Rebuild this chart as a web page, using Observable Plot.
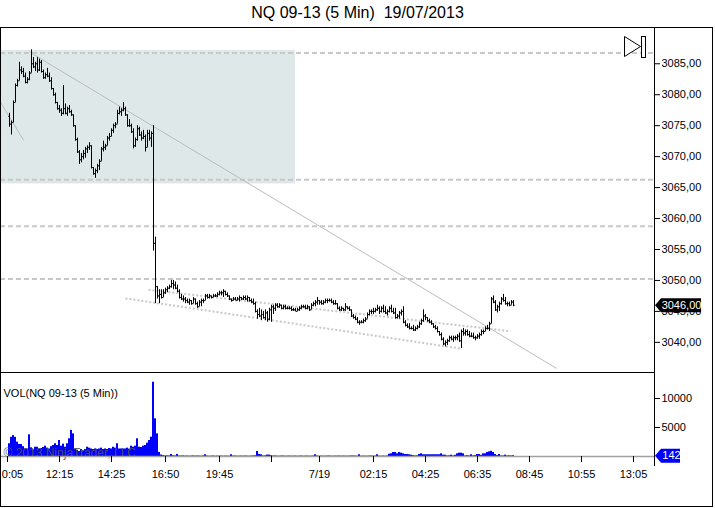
<!DOCTYPE html>
<html>
<head>
<meta charset="utf-8">
<script src="https://cdn.jsdelivr.net/npm/d3@7"></script>
<script src="https://cdn.jsdelivr.net/npm/@observablehq/plot@0.6"></script>
<style>
  html, body { margin: 0; padding: 0; background: #fff; }
  #wrap { position: relative; width: 715px; height: 508px; background: #fff; overflow: hidden;
          font-family: "Liberation Sans", Arial, sans-serif; }
  #title { position: absolute; left: 0; top: 4px; width: 715px; text-align: center; font-size: 16px;
           white-space: pre; color: #000; }
  .abs { position: absolute; }
  .line { position: absolute; pointer-events: none; }
</style>
</head>
<body>
<div id="wrap">
  <div id="title">NQ 09-13 (5 Min)  19/07/2013</div>
  <div id="price" class="abs" style="left:0;top:27px"></div>
  <div id="vol" class="abs" style="left:0;top:372px"></div>
  <div class="line" style="left:0;top:27px;width:711px;height:478px;border:1px solid #000"></div>
  <div class="line" style="left:654px;top:27px;width:0;height:439px;border-left:1px solid #000"></div>
  <div class="line" style="left:0;top:372px;width:654px;height:0;border-top:1px solid #000"></div>
  <svg class="abs" style="left:620px;top:34px" width="30" height="26">
    <path d="M4.5,2.5 L20.5,12.5 L4.5,22.5 Z" fill="#fff" stroke="#000"/>
    <rect x="21.5" y="2.5" width="4" height="21" fill="#fff" stroke="#000"/>
  </svg>
</div>
<script>
// ---------------- data ----------------
const highs = [
  3077.0,3075.75,3079.0,3081.75,3082.5,3085.25,3084.5,3084.25,3083.5,3082.75,
  3083.75,3087.25,3086.0,3085.25,3086.0,3085.75,3085.5,3084.0,3083.5,3084.25,
  3083.5,3082.75,3081.0,3080.25,3078.75,3078.25,3077.75,3081.5,3078.5,3078.0,
  3078.25,3077.5,3076.75,3075.0,3073.0,3071.0,3070.5,3071.0,3071.5,3071.75,
  3072.25,3071.75,3068.25,3068.0,3068.75,3069.5,3071.5,3072.5,3072.0,3073.25,
  3073.75,3074.5,3075.25,3075.5,3077.5,3078.0,3077.75,3078.75,3078.0,3076.75,
  3076.0,3075.25,3074.5,3073.0,3075.0,3074.75,3074.0,3074.25,3073.5,3074.25,
  3074.25,3074.0,3075.0,3057.0,3049.0,3048.5,3048.5,3048.5,3048.75,3049.0,
  3049.25,3050.0,3050.0,3049.75,3049.25,3048.5,3047.75,3047.5,3047.25,3047.0,
  3047.0,3046.75,3047.25,3047.0,3046.5,3046.75,3047.0,3047.0,3047.75,3047.75,
  3047.75,3047.5,3047.75,3047.75,3048.0,3048.25,3048.25,3048.5,3048.25,3048.0,
  3047.5,3047.0,3047.25,3047.25,3047.25,3047.5,3047.25,3047.5,3047.5,3047.5,
  3047.25,3047.0,3047.0,3046.5,3045.25,3045.5,3045.25,3045.0,3045.25,3045.0,
  3045.5,3046.0,3046.0,3046.25,3046.25,3046.25,3046.0,3046.0,3046.0,3045.75,
  3045.75,3045.75,3045.5,3045.5,3045.5,3045.75,3046.0,3046.0,3046.0,3046.0,
  3045.75,3046.25,3046.5,3046.75,3047.25,3046.75,3046.75,3046.75,3047.0,3047.0,
  3047.0,3047.0,3046.75,3046.75,3046.25,3045.75,3045.75,3045.5,3046.25,3045.75,
  3045.75,3045.25,3044.5,3044.25,3044.0,3043.5,3043.5,3043.75,3044.0,3044.75,
  3045.25,3045.25,3045.5,3045.5,3046.0,3045.75,3045.75,3046.0,3045.75,3045.25,
  3045.75,3046.0,3045.5,3045.5,3044.5,3045.0,3045.25,3045.75,3043.5,3043.0,
  3043.0,3042.5,3042.75,3042.5,3042.75,3043.25,3043.75,3045.25,3044.5,3044.0,
  3043.75,3043.5,3043.0,3042.75,3042.5,3041.75,3041.5,3040.75,3040.25,3040.5,
  3041.0,3041.0,3041.0,3041.0,3041.25,3041.5,3042.0,3042.25,3042.0,3042.0,
  3041.75,3041.5,3041.5,3041.0,3041.25,3041.5,3042.0,3042.0,3042.5,3042.75,
  3043.25,3047.25,3047.5,3046.75,3046.0,3046.5,3047.25,3047.75,3047.25,3046.5,
  3046.5,3046.75,3046.75
];
const lows = [
  3074.75,3073.5,3075.5,3078.75,3081.25,3082.25,3083.25,3082.75,3081.75,3081.75,
  3082.25,3083.5,3084.25,3083.75,3083.5,3083.75,3083.5,3082.5,3082.5,3082.75,
  3082.0,3080.75,3079.75,3078.5,3077.5,3077.0,3076.5,3076.75,3076.75,3076.5,
  3077.0,3076.5,3074.75,3072.5,3070.5,3068.75,3069.0,3069.5,3069.75,3070.5,
  3071.0,3068.0,3067.0,3066.5,3067.25,3067.75,3069.25,3070.75,3071.0,3071.75,
  3072.5,3073.25,3073.75,3074.5,3075.25,3076.75,3076.5,3077.25,3076.5,3074.75,
  3074.75,3073.75,3071.25,3071.5,3072.5,3073.25,3072.5,3072.75,3070.75,3071.5,
  3072.5,3071.5,3054.75,3046.25,3047.0,3046.25,3047.0,3047.25,3047.75,3048.0,
  3048.5,3048.75,3048.5,3048.5,3048.0,3047.0,3046.75,3046.5,3046.25,3046.25,
  3046.0,3046.0,3046.25,3046.0,3045.5,3045.75,3045.75,3046.25,3046.75,3047.0,
  3047.0,3047.0,3047.25,3047.25,3047.25,3047.5,3047.5,3047.25,3047.5,3047.25,
  3046.75,3046.5,3046.75,3046.75,3046.75,3046.5,3046.75,3046.75,3046.75,3046.5,
  3046.5,3046.25,3046.0,3044.75,3043.75,3044.0,3043.5,3043.75,3043.5,3043.25,
  3043.5,3043.25,3044.5,3045.0,3045.5,3045.5,3045.25,3045.25,3045.25,3045.25,
  3045.25,3045.0,3045.0,3045.0,3045.0,3045.0,3045.25,3045.5,3045.25,3045.25,
  3045.0,3045.25,3045.75,3045.75,3046.0,3046.0,3046.0,3046.0,3046.25,3046.25,
  3046.5,3046.25,3046.0,3046.0,3045.25,3045.0,3045.0,3045.0,3045.0,3045.25,
  3045.0,3044.0,3043.75,3043.5,3043.0,3042.75,3043.0,3043.0,3043.25,3043.75,
  3044.25,3044.5,3044.5,3044.75,3045.0,3044.5,3044.75,3044.75,3044.5,3044.25,
  3044.75,3044.75,3044.5,3043.75,3043.75,3043.75,3044.25,3043.0,3042.5,3042.25,
  3042.0,3042.0,3041.75,3041.75,3042.0,3042.25,3042.75,3043.25,3043.5,3043.25,
  3043.0,3042.75,3042.25,3042.0,3041.5,3041.0,3040.25,3039.5,3039.25,3039.5,
  3040.0,3040.25,3040.0,3040.25,3040.25,3040.0,3039.0,3041.0,3041.0,3041.0,
  3040.75,3040.75,3040.5,3040.25,3040.5,3040.5,3041.0,3041.25,3041.75,3042.0,
  3041.75,3043.0,3046.25,3045.0,3044.75,3045.0,3046.0,3046.5,3046.0,3045.75,
  3045.75,3046.0,3045.75
];
const closes = [
  3075.25,3075.5,3078.75,3081.5,3082.25,3084.0,3083.75,3083.0,3082.0,3082.5,
  3083.5,3085.0,3084.5,3085.0,3084.0,3085.25,3083.75,3082.75,3083.25,3083.0,
  3082.25,3081.0,3080.0,3078.75,3077.75,3077.5,3077.0,3077.75,3077.0,3077.75,
  3077.25,3076.75,3075.0,3072.75,3070.75,3069.5,3070.0,3070.5,3071.25,3071.5,
  3071.75,3068.25,3067.25,3067.75,3068.5,3069.25,3071.25,3071.5,3071.75,3073.0,
  3073.25,3074.25,3075.0,3075.25,3077.0,3077.25,3077.5,3077.75,3076.75,3075.0,
  3075.0,3074.0,3071.75,3072.75,3074.5,3073.5,3073.0,3073.25,3071.5,3073.75,
  3073.0,3073.75,3056.0,3049.0,3047.5,3047.75,3047.25,3048.0,3048.5,3048.75,
  3049.0,3049.5,3049.25,3048.75,3048.25,3047.25,3047.0,3047.0,3046.75,3046.5,
  3046.75,3046.25,3047.0,3046.25,3045.75,3046.5,3046.75,3046.75,3047.5,3047.25,
  3047.5,3047.25,3047.5,3047.5,3047.75,3048.0,3048.0,3048.25,3047.75,3047.5,
  3047.0,3046.75,3047.0,3046.75,3047.0,3047.25,3047.0,3047.25,3047.0,3047.25,
  3046.75,3046.5,3046.25,3045.0,3044.5,3044.25,3044.5,3044.0,3044.75,3043.75,
  3045.25,3045.75,3045.5,3046.0,3045.75,3046.0,3045.5,3045.75,3045.5,3045.5,
  3045.5,3045.25,3045.25,3045.0,3045.25,3045.5,3045.75,3045.75,3045.5,3045.75,
  3045.25,3046.0,3046.25,3046.5,3046.75,3046.5,3046.25,3046.5,3046.75,3046.75,
  3046.75,3046.5,3046.25,3046.25,3045.5,3045.25,3045.5,3045.25,3045.75,3045.5,
  3045.25,3044.25,3044.0,3043.75,3043.25,3043.25,3043.25,3043.5,3043.75,3044.5,
  3045.0,3045.0,3045.0,3045.25,3045.5,3045.0,3045.5,3045.0,3044.75,3045.0,
  3045.5,3045.0,3044.75,3044.0,3044.25,3044.75,3045.0,3043.25,3042.75,3042.5,
  3042.25,3042.25,3042.0,3042.25,3042.5,3043.0,3043.5,3044.25,3044.0,3043.5,
  3043.25,3043.0,3042.5,3042.25,3041.75,3041.25,3040.5,3039.75,3040.0,3040.25,
  3040.75,3040.5,3040.75,3040.75,3041.0,3040.25,3041.75,3041.5,3041.75,3041.25,
  3041.0,3041.0,3040.75,3040.75,3041.0,3041.25,3041.75,3041.75,3042.25,3042.25,
  3043.0,3047.0,3046.5,3045.25,3045.75,3046.25,3047.0,3046.75,3046.25,3046.25,
  3046.0,3046.5,3046.0
];
const firstOpen = 3076.5;
const volumes = [
  2200,3300,3600,3300,2470,2070,2070,1700,1300,1300,
  3740,1500,1150,1600,1600,1300,1380,1550,1780,1440,
  1300,1700,1900,2200,1900,2760,1780,2130,1600,2200,
  3050,4500,3900,1200,1030,860,1200,980,1200,1600,
  1440,1300,1200,1300,1200,1300,1440,1200,1300,1200,
  1380,1300,1600,1440,2200,1300,1300,1300,1300,1440,
  1270,1780,1600,1780,3050,1600,1550,1780,1900,2300,
  2760,3330,12800,6500,3900,700,250,150,100,120,
  100,350,120,100,350,90,80,110,70,90,
  60,80,100,70,90,80,60,100,300,80,
  60,70,90,60,80,70,90,60,80,70,
  60,300,80,90,60,70,80,60,90,70,
  60,80,100,120,860,350,300,100,120,250,
  250,150,80,100,70,60,80,90,60,70,
  80,60,70,80,60,70,90,60,70,80,
  60,70,80,300,90,60,80,70,60,80,
  90,70,60,80,70,90,60,80,70,60,
  80,90,100,80,70,300,60,80,70,60,
  80,90,70,80,300,70,60,80,60,90,
  400,460,690,690,460,690,575,460,345,345,
  300,230,150,100,120,345,460,300,300,300,
  300,300,300,300,300,300,460,230,230,100,
  120,230,100,200,460,575,575,460,100,150,
  100,300,100,150,345,345,200,460,460,690,
  800,900,690,345,150,345,100,100,230,100,
  120,100,142
];
// time-axis ticks (bar positions) and their labels
const timeTickPos = [-1, 25, 51, 78, 105, 131, 155, 182, 208, 234, 260, 286, 312];
const timeTickLabels = ["0:05", "12:15", "14:25", "16:50", "19:45", "", "7/19", "02:15", "04:25", "06:35", "08:45", "10:55", "13:05"];
const priceTicks = [3040, 3045, 3050, 3055, 3060, 3065, 3070, 3075, 3080, 3085];
const volumeTicks = [5000, 10000];
// drawing objects
const levelLines = [3086.75, 3066.25, 3058.75, 3050.25];
const zoneStart = -4.5, zoneEnd = 143, zoneTop = 3087.15, zoneBottom = 3065.6;
const trendStart = [10.5, 3086.8], trendEnd = [273.5, 3035.8];
const oldTrendStart = [-4.5, 3078.8], oldTrendEnd = [7.15, 3072.6];
const channelUpperStart = [69.5, 3048.5], channelUpperEnd = [250.5, 3041.8];
const channelLowerStart = [58, 3047.1], channelLowerEnd = [225.5, 3039.0];
const lastPrice = 3046.0;
const lastVolume = 142;
const volLabel = "VOL(NQ 09-13 (5 Min))";
const copyright = "© 2013 NinjaTrader, LLC";
// visible ranges
const xDomain = [-4.5, 322.5];
const priceDomain = [3035.13, 3090.86];
const volumeDomain = [0, 14483];

// ---------------- build ----------------
const bars = highs.map((h, i) => ({
  i, h, l: lows[i], c: closes[i], o: i ? closes[i - 1] : firstOpen, v: volumes[i]
}));
const zone = [{x1: zoneStart, x2: zoneEnd, y1: zoneBottom, y2: zoneTop}];
const trends = [
  {x1: trendStart[0], y1: trendStart[1], x2: trendEnd[0], y2: trendEnd[1]},
  {x1: oldTrendStart[0], y1: oldTrendStart[1], x2: oldTrendEnd[0], y2: oldTrendEnd[1]}
];
const channels = [
  {x1: channelUpperStart[0], y1: channelUpperStart[1], x2: channelUpperEnd[0], y2: channelUpperEnd[1]},
  {x1: channelLowerStart[0], y1: channelLowerStart[1], x2: channelLowerEnd[0], y2: channelLowerEnd[1]}
];
const fmtPrice = d => d.toFixed(2).replace(".", ",");
function tagSymbol(w) {
  return {
    draw(ctx) {
      ctx.moveTo(0.5, 0);
      ctx.lineTo(6.5, -7);
      ctx.lineTo(6.5 + w, -7);
      ctx.lineTo(6.5 + w, 7);
      ctx.lineTo(6.5, 7);
      ctx.closePath();
    }
  };
}
const font = "Liberation Sans, Arial, sans-serif";

const price = Plot.plot({
  width: 712, height: 345,
  marginLeft: 0, marginRight: 58, marginTop: 0, marginBottom: 0,
  style: {background: "transparent", fontFamily: font, fontSize: "11px", color: "#000"},
  x: {domain: xDomain, axis: null},
  y: {domain: priceDomain, axis: null},
  marks: [
    Plot.rect(zone, {x1: "x1", x2: "x2", y1: "y1", y2: "y2", fill: "#dfe8e8"}),
    Plot.ruleY(levelLines, {stroke: "#c8c8c8", strokeWidth: 2, strokeDasharray: "5,3"}),
    Plot.link(channels, {x1: "x1", y1: "y1", x2: "x2", y2: "y2", stroke: "#c8c8c8", strokeWidth: 2, strokeDasharray: "2,2"}),
    Plot.link(trends, {x1: "x1", y1: "y1", x2: "x2", y2: "y2", stroke: "#bcbcbc", strokeWidth: 1}),
    Plot.ruleX(bars, {x: "i", y1: "l", y2: "h", stroke: "#000", strokeWidth: 1}),
    Plot.link(bars, {x1: d => d.i - 0.6, x2: "i", y1: "o", y2: "o", stroke: "#000", strokeWidth: 1}),
    Plot.link(bars, {x1: "i", x2: d => d.i + 0.6, y1: "c", y2: "c", stroke: "#000", strokeWidth: 1}),
    Plot.axisY({anchor: "right", label: null, ticks: priceTicks, tickSize: 5, tickPadding: 2, tickFormat: fmtPrice, fontSize: 11}),
    Plot.dot([lastPrice], {x: () => xDomain[1], y: d => d, symbol: tagSymbol(40), r: 1, fill: "#000", stroke: "none"}),
    Plot.text([lastPrice], {x: () => xDomain[1], y: d => d, text: fmtPrice, dx: 27, fill: "#fff", fontSize: 11, textAnchor: "middle"})
  ]
});
document.getElementById("price").appendChild(price);

const vol = Plot.plot({
  width: 712, height: 118,
  marginLeft: 0, marginRight: 58, marginTop: 0, marginBottom: 34,
  style: {background: "transparent", fontFamily: font, fontSize: "11px", color: "#000"},
  x: {domain: xDomain, axis: null, label: null},
  y: {domain: volumeDomain, axis: null, label: null},
  marks: [
    Plot.text([volLabel], {frameAnchor: "top-left", text: d => d, dx: 3, dy: 17, textAnchor: "start", fontSize: 11, fill: "#000"}),
    Plot.rect(bars, {x1: d => d.i - 0.5, x2: d => d.i + 0.5, y1: 0, y2: "v", fill: "#0000ff"}),
    Plot.text([copyright], {frameAnchor: "bottom-left", text: d => d, dx: 3, dy: 0, textAnchor: "start", fontSize: 12, fill: "#555", fillOpacity: 0.9}),
    Plot.ruleY([0], {stroke: "#a0a0a0", strokeWidth: 1.5}),
    Plot.axisY({anchor: "right", label: null, ticks: volumeTicks, tickSize: 5, tickPadding: 2, tickFormat: d => String(d), fontSize: 11}),
    Plot.axisX({label: null, ticks: timeTickPos, tickSize: 6, tickPadding: 8, fontSize: 11,
      tickFormat: d => { const k = timeTickPos.indexOf(d); return k > 0 ? timeTickLabels[k] : ""; }}),
    Plot.axisX({label: null, ticks: [timeTickPos[0]], tickSize: 0, tickPadding: 14, dx: 5, fontSize: 11,
      tickFormat: () => timeTickLabels[0]}),
    Plot.dot([lastVolume], {x: () => xDomain[1], y: d => d, symbol: tagSymbol(19), r: 1, fill: "#0000ff", stroke: "none"}),
    Plot.text([lastVolume], {x: () => xDomain[1], y: d => d, text: d => String(d), dx: 17, fill: "#fff", fontSize: 11, textAnchor: "middle"})
  ]
});
document.getElementById("vol").appendChild(vol);
</script>
</body>
</html>
